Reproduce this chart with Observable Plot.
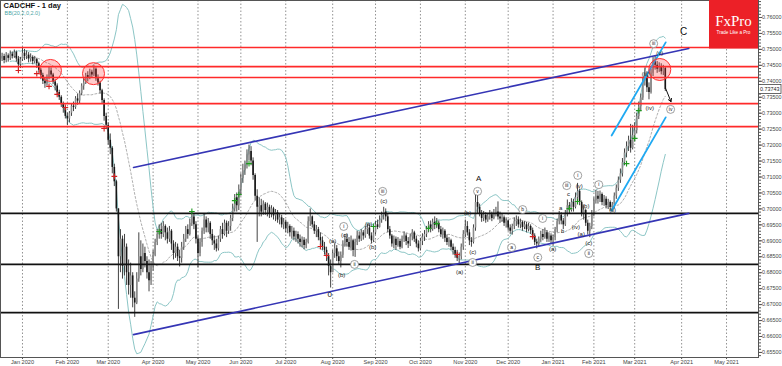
<!DOCTYPE html>
<html><head><meta charset="utf-8">
<script src="https://cdn.jsdelivr.net/npm/d3@7"></script>
<script src="https://cdn.jsdelivr.net/npm/@observablehq/plot@0.6"></script>
<style>
html,body{margin:0;padding:0;background:#fff;}
#wrap{position:relative;width:782px;height:366px;overflow:hidden;font-family:"Liberation Sans",Arial,sans-serif;}
#wrap svg{display:block;}
.ov{position:absolute;}
</style></head><body><div id="wrap"></div>
<script>
// ---------- DATA (CADCHF daily, bar index 0 = 2 Jan 2020) ----------
const firstIndex = -10;
const firstOpen = 0.7470;
const closes = [
0.7478,0.7465,0.7480,0.7472,0.7485,0.7478,0.7490,0.7470,0.7452,0.7468,
0.7488,0.7478,0.7482,0.7470,0.7475,0.7462,0.7468,0.7455,0.7435,0.7418,
0.7400,0.7392,0.7410,0.7432,0.7420,0.7398,0.7385,0.7365,0.7350,0.7328,
0.7315,0.7290,0.7282,0.7300,0.7322,0.7318,0.7345,0.7338,0.7362,0.7385,
0.7395,0.7418,0.7410,0.7428,0.7420,0.7438,0.7408,0.7395,0.7370,0.7340,
0.7290,0.7262,0.7215,0.7190,0.7130,0.7085,0.7000,0.6850,0.6905,0.6820,
0.6880,0.6800,0.6760,0.6790,0.6720,0.6705,0.6780,0.6850,0.6810,0.6860,
0.6835,0.6800,0.6775,0.6820,0.6855,0.6895,0.6920,0.6935,0.6920,0.6945,
0.6925,0.6905,0.6930,0.6890,0.6860,0.6880,0.6850,0.6845,0.6880,0.6905,
0.6935,0.6920,0.6955,0.6975,0.6950,0.6905,0.6860,0.6895,0.6930,0.6965,
0.6940,0.6955,0.6920,0.6900,0.6890,0.6875,0.6905,0.6935,0.6920,0.6955,
0.6930,0.6945,0.6970,0.7000,0.7035,0.7010,0.7060,0.7095,0.7120,0.7135,
0.7170,0.7180,0.7150,0.7105,0.7040,0.7005,0.7010,0.6990,0.7015,0.6995,
0.7005,0.6985,0.7000,0.6978,0.6988,0.6965,0.6972,0.6950,0.6958,0.6938,
0.6945,0.6925,0.6930,0.6912,0.6920,0.6905,0.6895,0.6902,0.6885,0.6895,
0.6960,0.6975,0.6950,0.6930,0.6935,0.6910,0.6900,0.6880,0.6870,0.6850,
0.6820,0.6800,0.6860,0.6875,0.6850,0.6835,0.6855,0.6890,0.6905,0.6895,
0.6880,0.6900,0.6870,0.6895,0.6915,0.6905,0.6925,0.6915,0.6935,0.6940,
0.6915,0.6900,0.6925,0.6950,0.6942,0.6965,0.6980,0.6990,0.6975,0.6935,
0.6915,0.6890,0.6905,0.6885,0.6898,0.6880,0.6905,0.6915,0.6898,0.6890,
0.6912,0.6925,0.6905,0.6890,0.6875,0.6898,0.6912,0.6920,0.6935,0.6950,
0.6935,0.6958,0.6948,0.6955,0.6935,0.6920,0.6930,0.6908,0.6895,0.6900,
0.6880,0.6870,0.6858,0.6845,0.6850,0.6880,0.6920,0.6945,0.6925,0.6900,
0.6895,0.6940,0.7020,0.7005,0.6985,0.6970,0.6980,0.6965,0.6975,0.6982,
0.6970,0.6985,0.6990,0.6975,0.6968,0.6972,0.6955,0.6962,0.6940,0.6930,
0.6945,0.6960,0.6965,0.6950,0.6958,0.6942,0.6950,0.6935,0.6945,0.6932,
0.6915,0.6895,0.6890,0.6905,0.6920,0.6910,0.6925,0.6905,0.6915,0.6900,
0.6910,0.6935,0.6960,0.6980,0.6962,0.6950,0.6985,0.7010,0.6995,0.7020,
0.7005,0.7035,0.7055,0.7020,0.6985,0.6995,0.6955,0.6930,0.6945,0.6985,
0.7025,0.7040,0.7030,0.7045,0.7020,0.7030,0.7010,0.7020,0.7005,0.7012,
0.7040,0.7065,0.7090,0.7110,0.7145,0.7175,0.7195,0.7215,0.7190,0.7230,
0.7245,0.7290,0.7320,0.7348,0.7400,0.7420,0.7380,0.7365,0.7425,0.7462,
0.7450,0.7438,0.7445,0.7430,0.7440,0.73743
];
const highs = [
0.7488,0.7485,0.7490,0.7486,0.7495,0.7492,0.7498,0.7495,0.7478,0.7475,
0.7506,0.7500,0.7495,0.7490,0.7486,0.7480,0.7478,0.7472,0.7460,0.7440,
0.7425,0.7410,0.7420,0.7445,0.7442,0.7425,0.7405,0.7392,0.7372,0.7355,
0.7335,0.7320,0.7300,0.7305,0.7330,0.7335,0.7352,0.7360,0.7370,0.7392,
0.7410,0.7425,0.7430,0.7438,0.7435,0.7449,0.7442,0.7420,0.7400,0.7375,
0.7345,0.7300,0.7270,0.7235,0.7195,0.7140,0.7090,0.6990,0.6935,0.6915,
0.6920,0.6890,0.6840,0.6830,0.6800,0.6740,0.6800,0.6925,0.6900,0.6890,
0.6880,0.6850,0.6840,0.6835,0.6870,0.6905,0.6935,0.6950,0.6955,0.6960,
0.6950,0.6940,0.6945,0.6935,0.6900,0.6895,0.6890,0.6870,0.6895,0.6920,
0.6945,0.6950,0.6968,0.6992,0.6985,0.6960,0.6915,0.6905,0.6940,0.6985,
0.6975,0.6970,0.6960,0.6935,0.6915,0.6905,0.6915,0.6945,0.6955,0.6965,
0.6962,0.6960,0.6980,0.7015,0.7045,0.7050,0.7075,0.7110,0.7140,0.7150,
0.7185,0.7200,0.7195,0.7160,0.7110,0.7060,0.7035,0.7030,0.7025,0.7020,
0.7018,0.7012,0.7010,0.7005,0.6998,0.6995,0.6985,0.6980,0.6970,0.6965,
0.6958,0.6950,0.6945,0.6940,0.6930,0.6928,0.6918,0.6912,0.6910,0.6905,
0.6975,0.7000,0.6978,0.6960,0.6948,0.6942,0.6925,0.6912,0.6895,0.6880,
0.6860,0.6840,0.6870,0.6890,0.6885,0.6865,0.6865,0.6900,0.6920,0.6920,
0.6910,0.6915,0.6905,0.6905,0.6930,0.6928,0.6935,0.6932,0.6945,0.6952,
0.6948,0.6925,0.6935,0.6960,0.6965,0.6978,0.6990,0.7005,0.7000,0.6985,
0.6945,0.6920,0.6915,0.6912,0.6910,0.6905,0.6915,0.6928,0.6922,0.6910,
0.6920,0.6935,0.6930,0.6915,0.6900,0.6908,0.6922,0.6932,0.6945,0.6960,
0.6962,0.6968,0.6975,0.6970,0.6962,0.6945,0.6940,0.6935,0.6918,0.6910,
0.6905,0.6890,0.6880,0.6870,0.6862,0.6890,0.6932,0.6965,0.6960,0.6935,
0.6910,0.6950,0.7048,0.7045,0.7015,0.6995,0.6992,0.6988,0.6985,0.6995,
0.6990,0.6998,0.7005,0.7022,0.6990,0.6985,0.6978,0.6972,0.6965,0.6950,
0.6952,0.6972,0.6978,0.6975,0.6968,0.6962,0.6960,0.6958,0.6955,0.6950,
0.6940,0.6922,0.6905,0.6912,0.6930,0.6935,0.6940,0.6932,0.6925,0.6922,
0.6918,0.6942,0.6968,0.6992,0.6988,0.6970,0.6995,0.7028,0.7020,0.7032,
0.7030,0.7050,0.7080,0.7062,0.7025,0.7010,0.7000,0.6965,0.6955,0.6995,
0.7035,0.7058,0.7055,0.7056,0.7050,0.7042,0.7038,0.7030,0.7025,0.7020,
0.7050,0.7075,0.7100,0.7125,0.7158,0.7188,0.7210,0.7228,0.7265,0.7262,
0.7270,0.7300,0.7335,0.7360,0.7412,0.7442,0.7430,0.7395,0.7438,0.7475,
0.7480,0.7462,0.7458,0.7455,0.7450,0.7445
];
const lows = [
0.7462,0.7455,0.7458,0.7460,0.7465,0.7470,0.7472,0.7460,0.7430,0.7440,
0.7462,0.7465,0.7468,0.7458,0.7460,0.7452,0.7455,0.7440,0.7425,0.7405,
0.7390,0.7378,0.7385,0.7405,0.7410,0.7390,0.7370,0.7355,0.7340,0.7318,
0.7300,0.7282,0.7261,0.7270,0.7290,0.7305,0.7312,0.7325,0.7330,0.7355,
0.7372,0.7390,0.7398,0.7405,0.7412,0.7415,0.7400,0.7385,0.7360,0.7330,
0.7275,0.7250,0.7200,0.7170,0.7110,0.7070,0.6990,0.6685,0.6800,0.6780,
0.6790,0.6760,0.6730,0.6720,0.6690,0.6660,0.6700,0.6770,0.6790,0.6800,
0.6815,0.6780,0.6740,0.6760,0.6805,0.6850,0.6885,0.6905,0.6905,0.6910,
0.6900,0.6890,0.6895,0.6870,0.6840,0.6845,0.6835,0.6818,0.6830,0.6870,
0.6895,0.6905,0.6915,0.6945,0.6935,0.6890,0.6815,0.6850,0.6880,0.6920,
0.6925,0.6925,0.6905,0.6885,0.6870,0.6865,0.6868,0.6895,0.6905,0.6915,
0.6910,0.6920,0.6930,0.6960,0.6990,0.6990,0.6995,0.7040,0.7080,0.7105,
0.7125,0.7150,0.7135,0.7090,0.7025,0.6895,0.6975,0.6975,0.6980,0.6980,
0.6975,0.6970,0.6972,0.6965,0.6960,0.6955,0.6950,0.6940,0.6935,0.6925,
0.6922,0.6912,0.6905,0.6900,0.6895,0.6890,0.6880,0.6878,0.6872,0.6875,
0.6890,0.6945,0.6940,0.6920,0.6910,0.6900,0.6885,0.6870,0.6855,0.6835,
0.6790,0.6752,0.6800,0.6845,0.6835,0.6825,0.6815,0.6845,0.6880,0.6880,
0.6870,0.6868,0.6850,0.6848,0.6885,0.6895,0.6898,0.6902,0.6908,0.6920,
0.6905,0.6890,0.6895,0.6918,0.6935,0.6940,0.6955,0.6965,0.6960,0.6925,
0.6905,0.6880,0.6875,0.6870,0.6880,0.6872,0.6875,0.6895,0.6885,0.6876,
0.6882,0.6900,0.6895,0.6878,0.6865,0.6868,0.6885,0.6898,0.6910,0.6925,
0.6925,0.6930,0.6935,0.6938,0.6925,0.6910,0.6905,0.6895,0.6885,0.6880,
0.6870,0.6855,0.6845,0.6835,0.6828,0.6840,0.6870,0.6910,0.6915,0.6885,
0.6880,0.6890,0.6930,0.6985,0.6975,0.6958,0.6960,0.6955,0.6958,0.6965,
0.6960,0.6966,0.6975,0.6965,0.6955,0.6958,0.6945,0.6940,0.6930,0.6920,
0.6918,0.6935,0.6945,0.6940,0.6938,0.6930,0.6935,0.6925,0.6928,0.6920,
0.6905,0.6885,0.6875,0.6880,0.6895,0.6900,0.6905,0.6895,0.6895,0.6890,
0.6884,0.6900,0.6925,0.6950,0.6950,0.6935,0.6945,0.6975,0.6985,0.6990,
0.6990,0.7000,0.7030,0.7010,0.6975,0.6965,0.6945,0.6918,0.6910,0.6935,
0.6975,0.7015,0.7015,0.7020,0.7010,0.7008,0.7000,0.6998,0.6992,0.6990,
0.7000,0.7030,0.7055,0.7080,0.7100,0.7135,0.7160,0.7180,0.7175,0.7185,
0.7210,0.7235,0.7280,0.7305,0.7340,0.7385,0.7365,0.7342,0.7360,0.7415,
0.7435,0.7425,0.7428,0.7420,0.7418,0.7368
];

// axis ticks
const monthTicks = [0,22,42,64,86,107,129,152,173,195,217,238,260,280,300,323,345];
const monthLabels = ["Jan 2020","Feb 2020","Mar 2020","Apr 2020","May 2020","Jun 2020","Jul 2020","Aug 2020","Sep 2020","Oct 2020","Nov 2020","Dec 2020","Jan 2021","Feb 2021","Mar 2021","Apr 2021","May 2021"];
const priceTicks = [0.655,0.660,0.665,0.670,0.675,0.680,0.685,0.690,0.695,0.700,0.705,0.710,0.715,0.720,0.725,0.730,0.735,0.740,0.745,0.750,0.755,0.760];

// levels & drawings
const redLevels = [0.7506,0.7446,0.7412,0.7330,0.7258];
const blackLevels = [0.6986,0.6826,0.6675];
const channelUpper = [[54.4,0.7130],[326.5,0.7503]];
const channelLower = [[54.4,0.6606],[326.5,0.6986]];
const cyanA = [[288.7,0.7230],[315.2,0.7522]];
const cyanB = [[288.7,0.6995],[315.2,0.7287]];
const circleJ = [13.7,34.8,312.3];
const circleP = [0.7434,0.7424,0.7437];
const arrowFrom = [315.2,0.7377];
const arrowTo = [317.8,0.7336];

// fractal-like markers
const redMarkJ = [-2,7,13,17,21,40,45,146,149,213,250];
const redMarkP = [0.7434,0.7424,0.7384,0.7359,0.7318,0.7252,0.7102,0.6882,0.6854,0.6857,0.6913];
const greenMarkJ = [67,83,104,106,111,172,199,203,268,272,296,300,302];
const greenMarkP = [0.6929,0.6992,0.7026,0.7045,0.7142,0.6945,0.6939,0.6954,0.7001,0.7023,0.7142,0.7221,0.7308];

// wave labels
const circledText = ["iii","i","ii","v","ii","a","b","c","i","iii","i","ii","i","iii","iv"];
const circledJ =    [176.5,157.4,162.7,223,220.6,239.7,245.1,252.5,254.9,266.7,272.1,277.5,282.4,309.3,317.6];
const circledP =    [0.7055,0.6945,0.6826,0.7055,0.6832,0.6879,0.6998,0.6848,0.6970,0.7073,0.7105,0.6860,0.7076,0.7518,0.7312];
const plainText = ["(a)","(b)","(c)","(a)","(b)","(c)","(b)","(c)","(a)","(a)","a","b","c","(v)","(iv)","(a)","(b)","(c)","(ii)","(iii)","(iv)","(v)"];
const plainJ =    [152,156.4,157.8,169.6,171.6,177,218.1,220.6,214.2,259.8,263.7,264.7,267.6,272.8,271.1,273.8,276,277.5,289.2,305.4,307.4,312.3];
const plainP =    [0.6898,0.6794,0.6917,0.6951,0.6879,0.7023,0.6986,0.6866,0.6801,0.6873,0.7004,0.6932,0.7048,0.7073,0.6942,0.6921,0.7008,0.6892,0.6995,0.7424,0.7315,0.7490];
const bigText = ["0","A","B","C"];
const bigJ = [150.5,223.5,252.5,324];
const bigP = [0.6732,0.7095,0.6816,0.7556];
const bigSize = [8,8,8,10];

// ---------- BUILD ----------
const n = Math.min(closes.length, highs.length, lows.length);
const candles = [];
for (let k = 0; k < n; k++) {
  const open = k === 0 ? firstOpen : closes[k-1];
  const close = closes[k];
  candles.push({j: firstIndex + k, open, close,
    hi: Math.max(highs[k], open, close), lo: Math.min(lows[k], open, close)});
}
const bb = candles.map((d, i) => {
  const w = closes.slice(Math.max(0, i - 19), i + 1);
  const m = d3.mean(w);
  const sd = Math.sqrt(d3.mean(w, v => (v - m) ** 2));
  return {j: d.j, mid: m, up: m + 2 * sd, lo: m - 2 * sd};
}).slice(4);

const seg = (pts) => pts.map(([j, p]) => ({j, p}));
const circles = circleJ.map((j, i) => ({j, p: circleP[i]}));
const redMarks = redMarkJ.map((j, i) => ({j, p: redMarkP[i]}));
const greenMarks = greenMarkJ.map((j, i) => ({j, p: greenMarkP[i]}));
const circled = circledText.map((t, i) => ({t, j: circledJ[i], p: circledP[i]}));
const plain = plainText.map((t, i) => ({t, j: plainJ[i], p: plainP[i]}));
const big = bigText.map((t, i) => ({t, j: bigJ[i], p: bigP[i], s: bigSize[i]}));
const minorTicks = d3.range(654, 766).map(k => k / 1000);
const monthMap = new Map(monthTicks.map((t, i) => [t, monthLabels[i]]));

const W = 782, H = 366;
const plot = Plot.plot({
  width: W, height: H,
  marginLeft: 0, marginRight: 24, marginTop: 0, marginBottom: 9,
  style: {fontFamily: "'Liberation Sans', Arial, sans-serif", fontSize: "6px", background: "#fff", color: "#333"},
  x: {type: "linear", domain: [-10.78, 360.67], axis: null},
  y: {domain: [0.65342, 0.76533], axis: null},
  marks: [
    Plot.gridX(monthTicks, {stroke: "#777", strokeOpacity: 0.8, strokeDasharray: "1.5,2"}),
    Plot.line(bb, {x: "j", y: "up", stroke: "#8cc6c6", strokeWidth: 1, clip: true}),
    Plot.line(bb, {x: "j", y: "lo", stroke: "#8cc6c6", strokeWidth: 1, clip: true}),
    Plot.line(bb, {x: "j", y: "mid", stroke: "#9a9a9a", strokeWidth: 0.8, strokeDasharray: "2,2", clip: true}),
    Plot.ruleX(candles, {x: "j", y1: "lo", y2: "hi", stroke: "#444", strokeWidth: 1}),
    Plot.ruleX(candles, {x: "j", y1: "open", y2: "close", strokeWidth: 1.6,
      stroke: d => d.close >= d.open ? "#8c8c8c" : "#161616"}),
    Plot.ruleY(blackLevels, {stroke: "#111", strokeWidth: 1.6}),
    Plot.ruleY(redLevels, {stroke: "#ff2a2a", strokeWidth: 1.6}),
    Plot.line(seg(channelUpper), {x: "j", y: "p", stroke: "#3535b5", strokeWidth: 1.6}),
    Plot.line(seg(channelLower), {x: "j", y: "p", stroke: "#3535b5", strokeWidth: 1.6}),
    Plot.line(seg(cyanA), {x: "j", y: "p", stroke: "#1fa9f2", strokeWidth: 1.8}),
    Plot.line(seg(cyanB), {x: "j", y: "p", stroke: "#1fa9f2", strokeWidth: 1.8}),
    Plot.dot(circles, {x: "j", y: "p", r: 11, fill: "#ff3030", fillOpacity: 0.25, stroke: "#ff3030", strokeWidth: 1}),
    Plot.dot(redMarks, {x: "j", y: "p", symbol: "plus", r: 2, stroke: "#d42020", strokeWidth: 1.1}),
    Plot.dot(greenMarks, {x: "j", y: "p", symbol: "plus", r: 2, stroke: "#1f9a1f", strokeWidth: 1.1}),
    Plot.arrow([{}], {x1: () => arrowFrom[0], y1: () => arrowFrom[1], x2: () => arrowTo[0], y2: () => arrowTo[1],
      stroke: "#111", strokeWidth: 1, headLength: 5}),
    Plot.dot(circled, {x: "j", y: "p", r: 4, fill: "#fff", stroke: "#777", strokeWidth: 0.7}),
    Plot.text(circled, {x: "j", y: "p", text: "t", fontSize: 5, fill: "#222"}),
    Plot.text(plain, {x: "j", y: "p", text: "t", fontSize: 6, fill: "#222"}),
    Plot.text(big, {x: "j", y: "p", text: "t", fontSize: d => d.s, fill: "#111"}),
    Plot.text(["CADCHF - 1 day"], {frameAnchor: "top-left", dx: 3, dy: 2, lineAnchor: "top", textAnchor: "start",
      fontSize: 7.5, fontWeight: "bold", fill: "#111"}),
    Plot.text(["BB(20,2,0,2.0)"], {frameAnchor: "top-left", dx: 4, dy: 10.5, lineAnchor: "top", textAnchor: "start",
      fontSize: 5.5, fill: "#4aa5a5"}),
    Plot.axisY({anchor: "right", ticks: minorTicks, tickSize: 2, tickFormat: () => "", label: null, stroke: "#555"}),
    Plot.axisY({anchor: "right", ticks: priceTicks, tickSize: 3, tickPadding: 0.5, tickFormat: d3.format(".5f"),
      label: null, fontSize: 5.4, fill: "#444", stroke: "#555"}),
    Plot.axisX({anchor: "bottom", ticks: monthTicks, tickSize: 2, tickPadding: 1,
      tickFormat: v => monthMap.get(v), label: null, fontSize: 5.6, fill: "#444", stroke: "#555"}),
    Plot.frame({stroke: "#555", strokeWidth: 1})
  ]
});
const wrap = document.getElementById("wrap");
wrap.appendChild(plot);

// current price tag
const ys = plot.scale("y");
const lastClose = closes[n - 1];
const tagY = ys.apply(lastClose);
const tag = document.createElementNS("http://www.w3.org/2000/svg", "svg");
tag.setAttribute("class", "ov");
tag.setAttribute("width", 24); tag.setAttribute("height", 10);
tag.style.left = "758px"; tag.style.top = (tagY - 5) + "px";
tag.innerHTML = `<rect x="0.5" y="0.5" width="22.5" height="9" fill="#fff" stroke="#444" stroke-width="0.8"/>
<text x="11.8" y="7" text-anchor="middle" font-size="5.4" fill="#222" font-family="Liberation Sans, Arial, sans-serif">${d3.format(".5f")(lastClose)}</text>`;
wrap.appendChild(tag);

// FxPro logo
const logo = document.createElementNS("http://www.w3.org/2000/svg", "svg");
logo.setAttribute("class", "ov");
logo.setAttribute("width", 49); logo.setAttribute("height", 49);
logo.style.left = "709px"; logo.style.top = "0px";
logo.innerHTML = `<rect x="0" y="0" width="49" height="48.5" fill="#ec2027"/>
<text x="24.5" y="26" text-anchor="middle" font-size="15" fill="#fff" font-family="Liberation Serif, DejaVu Serif, serif">FxPro</text>
<text x="24.5" y="33.5" text-anchor="middle" font-size="4.6" fill="#fff" font-family="Liberation Sans, Arial, sans-serif">Trade Like a Pro</text>`;
wrap.appendChild(logo);
</script>
</body></html>
